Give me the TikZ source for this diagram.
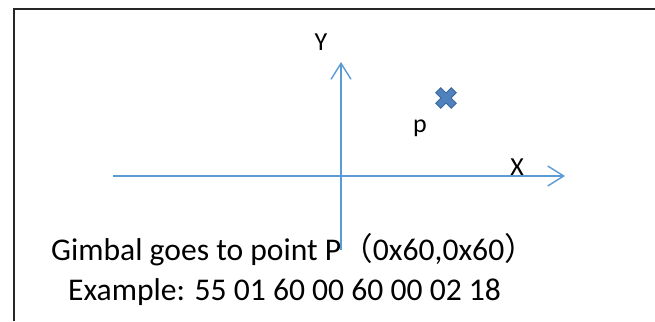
\documentclass[tikz,border=0pt]{standalone}
\usepackage{fontspec}
\setmainfont{Carlito}
\newfontfamily\cjk{Noto Sans CJK SC}
\usetikzlibrary{arrows.meta}
\definecolor{AxisClr}{RGB}{91,155,213}
\definecolor{MarkClr}{RGB}{79,129,189}
\definecolor{MarkEdge}{RGB}{58,104,160}

\begin{document}
\begin{tikzpicture}[x=1pt,y=-1pt,
  axis/.style={line width=1.4pt,color=AxisClr,-{Straight Barb[length=16pt,width=20pt,line width=1.4pt]}},
  lbl/.style={inner sep=0pt,font=\fontsize{26}{31}\selectfont},
  txt/.style={inner sep=0pt,anchor=base west,font=\fontsize{31.6}{37}\selectfont}]
\useasboundingbox (0,0) rectangle (655,321);

\draw[line width=1.8pt,color=black!85] (14,321) -- (14,9) -- (655,9);

\coordinate (Xs) at (113,176);
\coordinate (Xe) at (565,176);
\coordinate (Ys) at (341,250);
\coordinate (Ye) at (341,62);
\coordinate (P) at (446,98);

\draw[axis] (Xs) -- (Xe);
\draw[axis] (Ys) -- (Ye);

\begin{scope}[shift={(P)},rotate=45]
\filldraw[fill=MarkClr,draw=MarkEdge,line width=0.8pt]
  (3.5,11) -- (3.5,3.5) -- (11,3.5) -- (11,-3.5) -- (3.5,-3.5) -- (3.5,-11)
  -- (-3.5,-11) -- (-3.5,-3.5) -- (-11,-3.5) -- (-11,3.5) -- (-3.5,3.5) -- (-3.5,11) -- cycle;
\end{scope}

\node[lbl,anchor=base] (ylab) at (321,50) {Y};
\node[lbl,anchor=base] (xlab) at (517,175) {X};
\node[lbl,anchor=base] (plab) at (420,132) {p};

\node[txt] (goto) at (51,260) {Gimbal goes to point P{\cjk （}0x60,0x60{\cjk ）}};
\node[txt] (cmd) at (68,300) {Example: 55 01 60 00 60 00 02 18};

\end{tikzpicture}
\end{document}
